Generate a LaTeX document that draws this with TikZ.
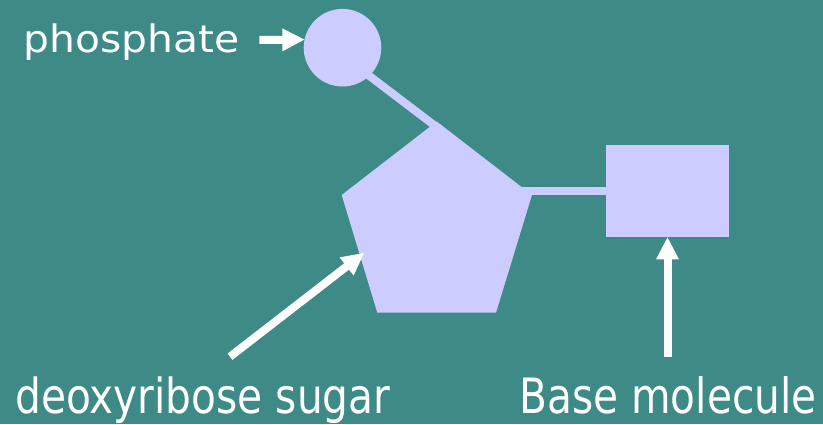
\documentclass[tikz,border=0pt]{standalone}
\usepackage{fontspec}
\setmainfont{DejaVu Sans}
\usetikzlibrary{calc}
\definecolor{bgteal}{RGB}{62,138,134}
\definecolor{lav}{RGB}{204,204,255}
\tikzset{
  partshape/.style={fill=lav, draw=none},
  bond/.style={draw=lav, line width=8pt},
  shaftline/.style={draw=white, line width=8pt},
  headfill/.style={fill=white, draw=none},
  lbl/.style={text=white, inner sep=0pt, anchor=base west},
}
\newcommand\fatArrowDraw[2]{%
  \coordinate (hb) at ($(#2)!22pt!(#1)$);
  \coordinate (hbx) at ($(#2)!20pt!(#1)$);
  \draw[shaftline] (#1) -- (hbx);
  \fill[headfill] (#2) -- ($(hb)!11.5pt!90:(#2)$) -- ($(hb)!11.5pt!-90:(#2)$) -- cycle;}
\begin{document}
\begin{tikzpicture}[x=1pt,y=-1pt]
\fill[bgteal] (0,0) rectangle (823,424);
\useasboundingbox (0,0) rectangle (823,424);
% pentagon vertices
\coordinate (ptop) at (436.7,121.5);
\coordinate (pright) at (532,195);
\coordinate (pbr) at (496,312.7);
\coordinate (pbl) at (377.3,312.7);
\coordinate (pleft) at (341.7,195);
% bond end points
\coordinate (bondA) at (365,72.6);
\coordinate (bondB) at (440,129.6);
\coordinate (bondC) at (500,190.8);
\coordinate (bondD) at (612,190.8);
% bonds (behind)
\draw[bond] (bondA) -- (bondB);
\draw[bond] (bondC) -- (bondD);
% shapes
\node[partshape, circle, minimum size=77.6pt, inner sep=0pt] (phos) at (342.5,47.7) {};
\fill[partshape] (ptop) -- (pright) -- (pbr) -- (pbl) -- (pleft) -- cycle;
\node[partshape, rectangle, minimum width=123pt, minimum height=92.3pt, inner sep=0pt] (base) at (667.5,191) {};
% labels
\node[lbl] (phostext) at (23.3,52.7) {\resizebox{216pt}{28.7pt}{phosphate}};
\node[lbl] (sugartext) at (15,413) {\resizebox{375pt}{36.7pt}{deoxyribose sugar}};
\node[lbl] (basetext) at (519.3,413) {\resizebox{297pt}{37pt}{Base molecule}};
% arrows
\coordinate (phostail) at (259.3,40);
\coordinate (phostip) at (phos.168.6);
\coordinate (sugartail) at (230,356.7);
\coordinate (sugartip) at (364,253);
\coordinate (basetail) at (667.5,356.7);
\coordinate (basetip) at (base.south);
\fatArrowDraw{phostail}{phostip}
\fatArrowDraw{sugartail}{sugartip}
\fatArrowDraw{basetail}{basetip}
\end{tikzpicture}
\end{document}
